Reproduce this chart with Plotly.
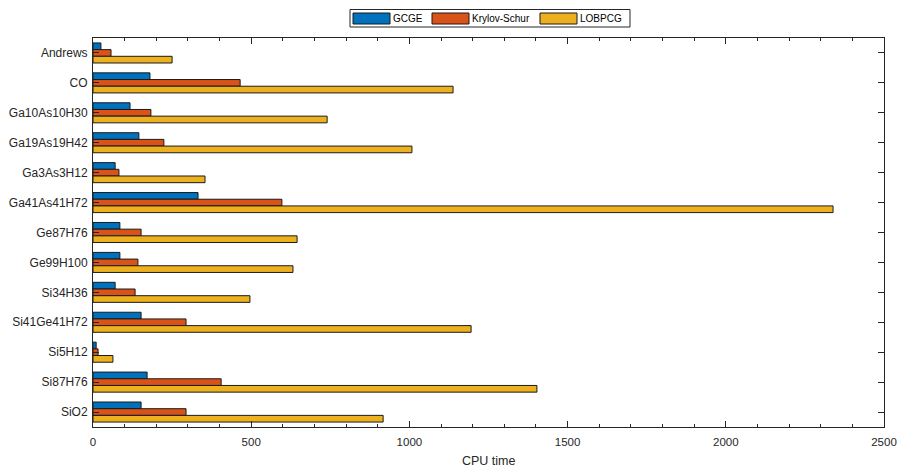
import plotly.graph_objects as go

categories = ["Andrews", "CO", "Ga10As10H30", "Ga19As19H42", "Ga3As3H12", "Ga41As41H72",
              "Ge87H76", "Ge99H100", "Si34H36", "Si41Ge41H72", "Si5H12", "Si87H76", "SiO2"]
gcge = [25, 180, 117, 145, 70, 332, 85, 85, 70, 152, 10, 171, 152]
krylov = [57, 465, 183, 224, 82, 597, 152, 142, 133, 294, 16, 405, 294]
lobpcg = [250, 1138, 740, 1008, 354, 2339, 645, 632, 496, 1195, 63, 1403, 917]
series_names = ["GCGE", "Krylov-Schur", "LOBPCG"]
series_colors = ["#0072BD", "#D95319", "#EDB120"]

FONT = "Liberation Sans, Arial, sans-serif"
INK = "#262626"

fig = go.Figure()
for name, vals, col in zip(series_names, [gcge, krylov, lobpcg], series_colors):
    fig.add_trace(go.Bar(y=categories, x=vals, name=name, orientation="h", showlegend=False,
                         marker=dict(color=col, line=dict(color="#1a1a1a", width=1))))

axis_common = dict(showline=True, linecolor=INK, linewidth=1, mirror="ticks",
                   ticks="inside", tickcolor=INK, showgrid=False, zeroline=False)

# plot area: window px x 93..884, y 38..427
PX0, PX1, PY0, PY1 = 93, 884, 38, 427
def xp(x):
    return (x - PX0) / (PX1 - PX0)
def yp(y):
    return (PY1 - y) / (PY1 - PY0)

# manual legend (wide swatches like the original)
shapes = [dict(type="rect", xref="paper", yref="paper", x0=xp(350), x1=xp(630), y0=yp(27), y1=yp(9.5),
               line=dict(color=INK, width=1), fillcolor="white")]
annotations = []
sw_x = [353, 432, 540]
for name, col, x0 in zip(series_names, series_colors, sw_x):
    shapes.append(dict(type="rect", xref="paper", yref="paper", x0=xp(x0), x1=xp(x0 + 37),
                       y0=yp(24), y1=yp(13), line=dict(color="#1a1a1a", width=1), fillcolor=col))
    annotations.append(dict(text=name, xref="paper", yref="paper", x=xp(x0 + 38), y=yp(18.5),
                            xanchor="left", yanchor="middle", showarrow=False,
                            font=dict(family=FONT, size=10, color="#000000")))
annotations.append(dict(text="CPU time", xref="paper", yref="paper", x=0.5, y=yp(461),
                        xanchor="center", yanchor="middle", showarrow=False,
                        font=dict(family=FONT, size=12.5, color=INK)))

fig.update_layout(
    width=898, height=470,
    margin=dict(l=93, r=14, t=38, b=43, autoexpand=False),
    plot_bgcolor="white", paper_bgcolor="white",
    barmode="group", bargap=0.33, bargroupgap=0,
    font=dict(family=FONT, size=12, color=INK),
    showlegend=False,
    shapes=shapes, annotations=annotations,
    xaxis=dict(range=[0, 2500], tickvals=[0, 500, 1000, 1500, 2000, 2500], ticklen=6,
               tickfont=dict(family=FONT, size=11.5, color=INK), ticklabelstandoff=4,
               minor=dict(tickvals=list(range(0, 2501, 100)), ticklen=3, ticks="inside",
                          tickcolor=INK),
               **axis_common),
    yaxis=dict(autorange="reversed", ticklen=6, ticklabelstandoff=2,
               tickfont=dict(family=FONT, size=12, color=INK), **axis_common),
)

fig.write_html("out.html", config={"displayModeBar": False},
               post_script="document.body.style.margin='0px';document.body.style.overflow='hidden';")
